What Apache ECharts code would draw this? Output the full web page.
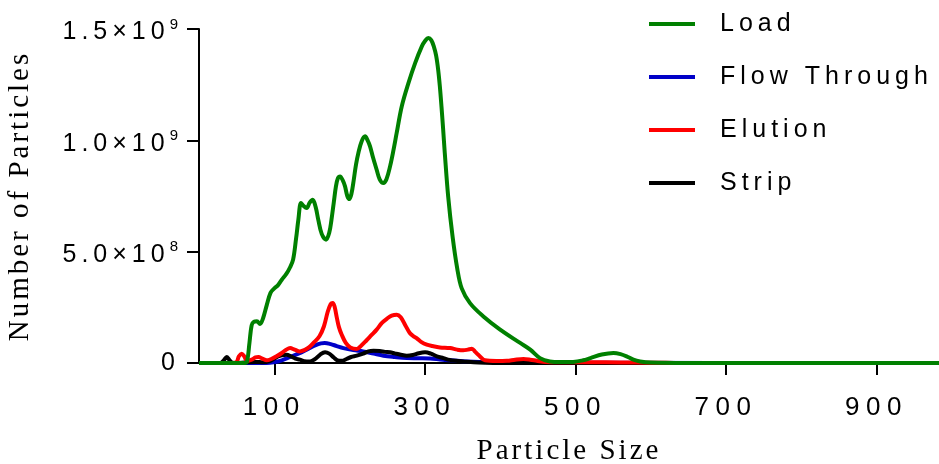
<!DOCTYPE html>
<html>
<head>
<meta charset="utf-8">
<script src="https://cdn.jsdelivr.net/npm/echarts@6/dist/echarts.min.js"></script>
<style>
  html, body { margin: 0; padding: 0; background: #fff; }
  #chart { width: 939px; height: 464px; }
</style>
</head>
<body>
<div id="chart"></div>
<script>
// ---------------- data ----------------
const seriesNames = ['Load', 'Flow Through', 'Elution', 'Strip'];

const loadX = [0, 40, 61, 64, 67, 70, 73, 77, 81, 85, 90, 95, 100, 105, 110, 116, 121, 125, 129, 132, 135.5, 139, 143, 147, 151, 155, 158.4, 163, 168.8, 173, 176, 179, 181.9, 184.5, 187.4, 191, 194, 197, 199.8, 202.5, 205.6, 208.5, 211.7, 216, 220.6, 224, 227.2, 231, 236, 240, 245, 249, 253.8, 258, 262.6, 269.3, 278.2, 287.1, 296, 300, 304.7, 308.5, 311.9, 315, 317.7, 320, 322.1, 324.3, 326.5, 331, 336.8, 343, 349, 360, 377.8, 400, 426.6, 440, 453, 466, 480, 497, 510, 520, 535, 550.6, 560, 568, 577, 586, 600, 650, 700, 983];
const loadY = [0, 0, 0, 0.1e8, 0.9e8, 1.7e8, 1.85e8, 1.87e8, 1.75e8, 2.0e8, 2.6e8, 3.15e8, 3.35e8, 3.5e8, 3.74e8, 4.0e8, 4.3e8, 4.64e8, 5.6e8, 6.44e8, 7.19e8, 7.05e8, 6.96e8, 7.2e8, 7.33e8, 7.0e8, 6.44e8, 5.8e8, 5.54e8, 5.85e8, 6.44e8, 7.2e8, 7.93e8, 8.3e8, 8.38e8, 8.2e8, 7.93e8, 7.5e8, 7.36e8, 7.6e8, 8.23e8, 8.9e8, 9.43e8, 9.95e8, 10.18e8, 10.0e8, 9.73e8, 9.25e8, 8.68e8, 8.25e8, 8.08e8, 8.25e8, 8.83e8, 9.5e8, 10.33e8, 11.52e8, 12.57e8, 13.47e8, 14.22e8, 14.45e8, 14.6e8, 14.5e8, 14.22e8, 13.8e8, 13.17e8, 12.4e8, 11.52e8, 10.5e8, 9.43e8, 7.48e8, 5.69e8, 4.25e8, 3.35e8, 2.69e8, 2.09e8, 1.5e8, 0.9e8, 0.6e8, 0.22e8, 0.07e8, 0.04e8, 0.05e8, 0.12e8, 0.22e8, 0.38e8, 0.45e8, 0.4e8, 0.3e8, 0.15e8, 0.07e8, 0.02e8, 0, 0, 0];

const flowX = [0, 90, 99, 110, 121, 132, 143, 155, 162, 167, 175, 183, 191.8, 205, 218, 232, 245, 260, 276, 290, 307, 320, 333.5, 350, 364, 380, 420, 460, 500, 983];
const flowY = [0, 0, 0.03e8, 0.12e8, 0.27e8, 0.42e8, 0.6e8, 0.8e8, 0.88e8, 0.9e8, 0.85e8, 0.76e8, 0.67e8, 0.58e8, 0.52e8, 0.42e8, 0.33e8, 0.27e8, 0.22e8, 0.21e8, 0.2e8, 0.16e8, 0.12e8, 0.08e8, 0.06e8, 0.05e8, 0.05e8, 0.03e8, 0.01e8, 0];

const elutionX = [0, 45, 50, 53, 56.7, 60, 64, 70, 75, 79, 84, 90, 96, 103, 110, 116, 121, 127, 134, 140, 146, 152, 160, 166, 171, 175, 177.6, 180, 183, 186, 189.6, 195, 201, 209.5, 216, 222, 229, 236, 243, 250, 256, 262.7, 268, 274, 280, 285, 289, 295, 302.6, 310, 320, 333.5, 343, 351, 357, 362.4, 367, 371, 380, 395, 409, 420, 431, 440, 448.6, 460, 480, 540, 580, 620, 650, 983];
const elutionY = [0, 0, 0.05e8, 0.3e8, 0.42e8, 0.3e8, 0.1e8, 0.15e8, 0.25e8, 0.27e8, 0.2e8, 0.12e8, 0.18e8, 0.3e8, 0.45e8, 0.6e8, 0.67e8, 0.6e8, 0.52e8, 0.58e8, 0.7e8, 0.9e8, 1.2e8, 1.65e8, 2.3e8, 2.65e8, 2.7e8, 2.55e8, 2.05e8, 1.6e8, 1.27e8, 0.9e8, 0.7e8, 0.63e8, 0.8e8, 1.0e8, 1.25e8, 1.5e8, 1.8e8, 2.0e8, 2.13e8, 2.17e8, 2.05e8, 1.7e8, 1.35e8, 1.2e8, 1.12e8, 0.95e8, 0.82e8, 0.76e8, 0.7e8, 0.67e8, 0.6e8, 0.57e8, 0.6e8, 0.64e8, 0.5e8, 0.37e8, 0.12e8, 0.09e8, 0.1e8, 0.15e8, 0.18e8, 0.15e8, 0.1e8, 0.04e8, 0.03e8, 0.03e8, 0.02e8, 0.01e8, 0, 0];

const stripX = [0, 28, 33, 36.8, 40, 44, 50, 60, 75, 85, 95, 100, 105, 110, 116.5, 122, 128, 134, 140, 147.5, 155, 161, 167.4, 173, 179, 184, 189.6, 196, 202, 209.6, 218, 225, 231.7, 240, 247, 253.8, 260, 268, 276, 284, 292, 300.3, 308, 316, 324.7, 333, 341, 351, 365, 380, 400, 983];
const stripY = [0, 0, 0.12e8, 0.27e8, 0.15e8, 0.02e8, 0, 0.02e8, 0.05e8, 0.03e8, 0.1e8, 0.2e8, 0.3e8, 0.35e8, 0.37e8, 0.3e8, 0.2e8, 0.15e8, 0.08e8, 0.07e8, 0.2e8, 0.38e8, 0.48e8, 0.42e8, 0.25e8, 0.12e8, 0.1e8, 0.18e8, 0.27e8, 0.33e8, 0.42e8, 0.52e8, 0.55e8, 0.54e8, 0.5e8, 0.48e8, 0.43e8, 0.37e8, 0.33e8, 0.36e8, 0.44e8, 0.48e8, 0.42e8, 0.3e8, 0.22e8, 0.14e8, 0.1e8, 0.07e8, 0.03e8, 0.01e8, 0, 0];

const xTickValues = [100, 300, 500, 700, 900];
const yTickValues = [0, 5e8, 1e9, 1.5e9];
const yTickMantissa = ['0', '5.0×10', '1.0×10', '1.5×10'];
const yTickExponent = ['', '8', '9', '9'];

// ---------------- styling ----------------
const SANS = '"Liberation Sans", Arial, Helvetica';
const SERIF = '"Liberation Serif", "Times New Roman", Times';
const colors = ['#008000', '#0000C8', '#FF0000', '#000000'];
const zOrder = [5, 2, 4, 3];

// wide letter spacing like the original (measure + draw consistently)
function spacingFor(font) {
  font = font || '';
  const m = font.match(/(\d+(?:\.\d+)?)px/);
  const size = m ? parseFloat(m[1]) : 12;
  if (/Liberation Serif/.test(font)) return 3;
  if (size >= 26) return 6.5;
  if (size >= 24) return 5;
  if (size >= 14) return 2;
  return 0;
}
try {
  const mctx = document.createElement('canvas').getContext('2d');
  if ('letterSpacing' in mctx && echarts.setPlatformAPI) {
    echarts.setPlatformAPI({
      measureText: function (text, font) {
        mctx.font = font || '12px sans-serif';
        mctx.letterSpacing = spacingFor(mctx.font) + 'px';
        return mctx.measureText(text);
      }
    });
    const origFill = CanvasRenderingContext2D.prototype.fillText;
    CanvasRenderingContext2D.prototype.fillText = function (t, x, y, w) {
      this.letterSpacing = spacingFor(this.font) + 'px';
      return w === undefined ? origFill.call(this, t, x, y) : origFill.call(this, t, x, y, w);
    };
  }
} catch (e) { /* fall back to normal spacing */ }

function pairs(xs, ys) { return xs.map((x, i) => [x, ys[i]]); }
const seriesData = [pairs(loadX, loadY), pairs(flowX, flowY), pairs(elutionX, elutionY), pairs(stripX, stripY)];

const chart = echarts.init(document.getElementById('chart'), null, { renderer: 'canvas' });

chart.setOption({
  animation: false,
  backgroundColor: '#fff',
  grid: { left: 199, right: 0, top: 29, bottom: 101, containLabel: false, outerBoundsMode: 'none' },
  legend: {
    data: seriesNames,
    orient: 'vertical',
    left: 649,
    top: 9,
    padding: 0,
    icon: 'rect',
    itemWidth: 46,
    itemHeight: 4,
    itemGap: 23,
    textStyle: { fontFamily: SANS, fontSize: 25, lineHeight: 25, color: '#000', padding: [0, 0, 0, 20] }
  },
  xAxis: {
    type: 'value',
    min: 0,
    max: 983,
    name: 'Particle Size',
    nameLocation: 'middle',
    nameGap: 72,
    nameTextStyle: { fontFamily: SERIF, fontSize: 29, color: '#000' },
    axisLine: { show: true, onZero: false, lineStyle: { color: '#000', width: 2 } },
    axisTick: { show: true, length: 12, customValues: xTickValues, lineStyle: { color: '#000', width: 2 } },
    axisLabel: { customValues: xTickValues, margin: 29, fontFamily: SANS, fontSize: 26, color: '#000' },
    splitLine: { show: false }
  },
  yAxis: {
    type: 'value',
    min: 0,
    max: 1.5e9,
    interval: 5e8,
    name: 'Number of Particles',
    nameLocation: 'middle',
    nameGap: 163,
    nameTextStyle: { fontFamily: SERIF, fontSize: 29, color: '#000' },
    axisLine: { show: true, lineStyle: { color: '#000', width: 2 } },
    axisTick: { show: true, length: 12, lineStyle: { color: '#000', width: 2 } },
    splitLine: { show: false },
    axisLabel: {
      margin: 19,
      fontFamily: SANS,
      fontSize: 25,
      color: '#000',
      formatter: function (v) {
        const i = yTickValues.indexOf(v);
        if (i < 0) return '';
        if (!yTickExponent[i]) return yTickMantissa[i];
        return '{m|' + yTickMantissa[i] + '}{s|' + yTickExponent[i] + '}';
      },
      rich: {
        m: { fontFamily: SANS, fontSize: 25, color: '#000', padding: [7, 0, 0, 0] },
        s: { fontFamily: SANS, fontSize: 15, color: '#000', padding: [0, 0, 9, 0] }
      }
    }
  },
  series: seriesNames.map((name, i) => ({
    name: name,
    type: 'line',
    data: seriesData[i],
    showSymbol: false,
    symbol: 'none',
    smooth: 0.35,
    z: zOrder[i],
    color: colors[i],
    lineStyle: { color: colors[i], width: 4 },
    itemStyle: { color: colors[i] }
  }))
});
</script>
</body>
</html>
